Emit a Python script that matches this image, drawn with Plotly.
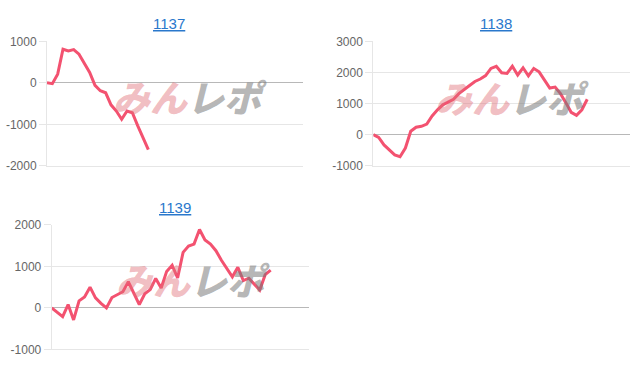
import plotly.graph_objects as go

titles = ["1137", "1138", "1139"]
s1137 = [0, -20, 210, 810, 770, 800, 690, 460, 250, -60, -190, -240, -530, -680,
         -880, -680, -720, -1030, -1340, -1610]
s1138 = [0, -90, -330, -500, -650, -710, -430, 110, 240, 270, 340, 600, 800, 960,
         1060, 1140, 1320, 1440, 1580, 1710, 1790, 1900, 2130, 2200, 1990, 1970,
         2200, 1920, 2150, 1890, 2130, 2020, 1760, 1500, 1530, 1320, 1030, 720,
         620, 800, 1140]
s1139 = [0, -100, -210, 80, -290, 170, 265, 500, 240, 110, 0, 250, 310, 390, 630,
         370, 80, 340, 440, 710, 480, 880, 1030, 720, 1340, 1490, 1540, 1890, 1640,
         1540, 1380, 1150, 960, 750, 980, 660, 715, 580, 430, 800, 910]
series = [s1137, s1138, s1139]
ticks1137 = [-2000, -1000, 0, 1000]
ticks1138 = [-1000, 0, 1000, 2000, 3000]
ticks1139 = [-1000, 0, 1000, 2000]
tick_sets = [ticks1137, ticks1138, ticks1139]
y_ranges = [[-2000, 1000], [-1000, 3000], [-1000, 2000]]
x_ranges = [[0, 48], [0, 48], [0, 47]]

W, H = 640, 372
areas = [(47, 303, 35.7, 165), (373.3, 630, 35.7, 165), (51.7, 309, 226.5, 355.7)]
title_pos = [(169, 17), (496, 17), (175, 208)]
mark_pos = [(190, 92), (512, 93), (193, 283)]

LINE = "rgb(243,82,112)"
GRID = "#e6e6e6"

fig = go.Figure()
layout = dict(width=W, height=H, margin=dict(l=0, r=0, t=0, b=0),
              paper_bgcolor="white", plot_bgcolor="white", showlegend=False,
              annotations=[])

for i, (name, vals) in enumerate(zip(titles, series)):
    sx = "" if i == 0 else str(i + 1)
    fig.add_trace(go.Scatter(x=list(range(len(vals))), y=vals, mode="lines",
                             line=dict(color=LINE, width=3),
                             xaxis="x" + sx, yaxis="y" + sx, hoverinfo="skip"))
    l, r, t, b = areas[i]
    layout["xaxis" + sx] = dict(domain=[l / W, r / W], range=x_ranges[i],
                                showgrid=False, zeroline=False, showline=True,
                                linecolor=GRID, linewidth=1,
                                showticklabels=False, ticks="", anchor="y" + sx)
    tv = tick_sets[i]
    layout["yaxis" + sx] = dict(domain=[1 - b / H, 1 - t / H], range=y_ranges[i],
                                tickmode="array", tickvals=tv,
                                ticktext=[str(v) for v in tv],
                                showgrid=True, gridcolor=GRID,
                                gridwidth=1, zeroline=True, zerolinecolor="#b8b8b8",
                                zerolinewidth=1, showline=True, linecolor=GRID,
                                ticks="outside", ticklen=7, tickcolor=GRID,
                                tickfont=dict(family="Liberation Sans", size=12,
                                              color="#666666"),
                                anchor="x" + sx)
    tx, ty = title_pos[i]
    layout["annotations"].append(dict(
        text="<u>" + name + "</u>", x=tx / W, y=1 - ty / H, xref="paper",
        yref="paper", showarrow=False, xanchor="center", yanchor="middle",
        font=dict(family="Liberation Sans", size=15, color="#2a78cc")))
    mx, my = mark_pos[i]
    layout["annotations"].append(dict(
        text="<span style='color:rgba(225,110,120,0.45)'>みん</span>"
             "<span style='color:rgba(120,120,120,0.55)'>レポ</span>",
        x=mx / W, y=1 - my / H, xref="paper", yref="paper", showarrow=False,
        xanchor="center", yanchor="middle",
        font=dict(family="Noto Sans CJK JP", size=37, weight=900, style="italic")))

fig.update_layout(**layout)
fig.write_html("out.html")
